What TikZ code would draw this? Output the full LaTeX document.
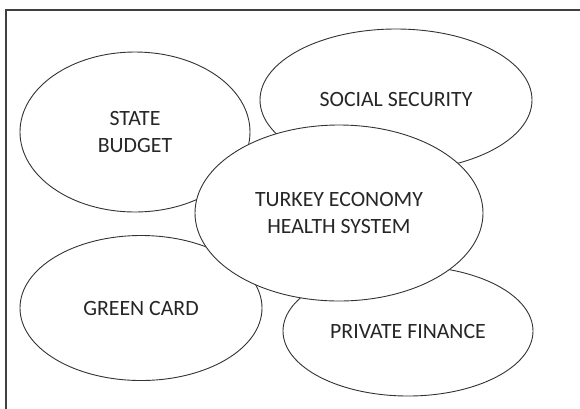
\documentclass[tikz,border=0pt]{standalone}
\usepackage{fontspec}
\setmainfont{Carlito}
\usetikzlibrary{shapes.geometric}
\tikzset{
  bubble/.style={ellipse, draw=black!80, line width=0.9pt, fill=white, inner sep=0pt,
    align=center, font=\fontsize{21.8}{26.5}\selectfont, text=black!85},
}
\begin{document}
\begin{tikzpicture}[x=1pt,y=-1pt]
\useasboundingbox (0,0) rectangle (580,408);
\draw[black!75, line width=1.2pt] (6,410) -- (6,10) -- (582,10);
\node[bubble, minimum width=272pt, minimum height=142pt] (soc) at (396,100) {SOCIAL SECURITY};
\node[bubble, minimum width=230pt, minimum height=160pt] (sb) at (135,132) {STATE\\BUDGET};
\node[bubble, minimum width=242pt, minimum height=145pt] (gc) at (141,308) {GREEN CARD};
\node[bubble, minimum width=250pt, minimum height=130pt] (pf) at (408,331) {PRIVATE FINANCE};
\node[bubble, minimum width=288pt, minimum height=176pt] (ctr) at (339,213) {TURKEY ECONOMY\\HEALTH SYSTEM};
\end{tikzpicture}
\end{document}
